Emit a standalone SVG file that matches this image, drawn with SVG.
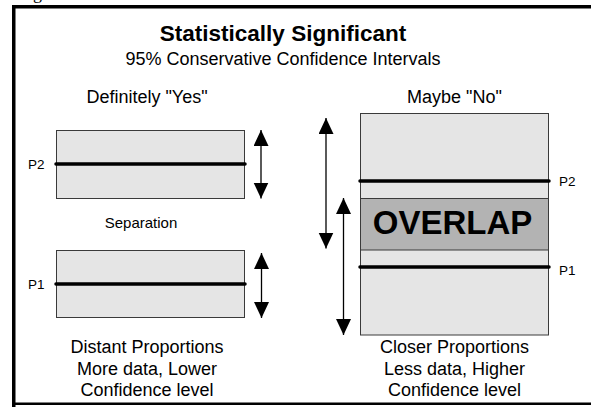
<svg xmlns="http://www.w3.org/2000/svg" width="591" height="407" viewBox="0 0 591 407">
  <style>
    text { font-family: "Liberation Sans", Arial, Helvetica, sans-serif; fill: #000; }
    .title { font-size: 22.5px; font-weight: bold; text-anchor: middle; }
    .sub { font-size: 18px; text-anchor: middle; }
    .lbl { font-size: 18px; text-anchor: middle; }
    .mid { font-size: 15px; text-anchor: middle; }
    .p { font-size: 13.5px; }
    .big { font-size: 33px; font-weight: bold; text-anchor: middle; }
    .box { fill: #e5e5e5; stroke: #3a3a3a; stroke-width: 1; }
    .ovl { fill: #b3b3b3; stroke: #3a3a3a; stroke-width: 1; }
    .pline { stroke: #000; stroke-width: 3.5; stroke-linecap: round; }
    .arr { stroke: #000; stroke-width: 1.3; fill: none; marker-start: url(#head); marker-end: url(#head); }
    .frame { fill: #000; }
  </style>
  <defs>
    <marker id="head" markerUnits="userSpaceOnUse" markerWidth="16" markerHeight="16" viewBox="0 0 16 16" refX="16" refY="7.5" orient="auto-start-reverse">
      <path d="M0,0 L16,7.5 L0,15 Z" fill="#000"/>
    </marker>
  </defs>

  <rect width="591" height="407" fill="#fff"/>

  <!-- descender of a caption line above the frame -->
  <text x="33" y="-1" style="font-family: 'Liberation Serif', 'Times New Roman', serif; font-size: 18px;">g</text>

  <!-- frame -->
  <rect class="frame" x="12" y="5" width="579" height="3.5"/>
  <rect class="frame" x="12" y="5" width="3.5" height="402"/>
  <rect class="frame" x="12" y="402.5" width="579" height="2.5"/>

  <!-- headings -->
  <text class="title" x="283" y="41">Statistically Significant</text>
  <text class="sub" x="283" y="65">95% Conservative Confidence Intervals</text>

  <!-- left column: separated intervals -->
  <g id="left-heading">
    <text class="lbl" x="147" y="103">Definitely "Yes"</text>
  </g>
  <g id="p2-interval">
    <rect class="box" x="56.5" y="130.5" width="188" height="68"/>
    <line class="pline" x1="56" y1="164" x2="245" y2="164"/>
    <text class="p" x="28" y="168.5">P2</text>
  </g>
  <g id="separation">
    <text class="mid" x="141" y="228">Separation</text>
  </g>
  <g id="p1-interval">
    <rect class="box" x="56.5" y="250.5" width="188" height="67"/>
    <line class="pline" x1="56" y1="284" x2="245" y2="284"/>
    <text class="p" x="28" y="288.5">P1</text>
  </g>
  <g id="left-caption">
    <text class="lbl" x="147" y="353">Distant Proportions</text>
    <text class="lbl" x="147" y="375">More data, Lower</text>
    <text class="lbl" x="147" y="396">Confidence level</text>
  </g>

  <!-- right column: overlapping intervals -->
  <g id="right-heading">
    <text class="lbl" x="454.5" y="103">Maybe "No"</text>
  </g>
  <g id="wide-intervals">
    <rect class="box" x="360.5" y="113.5" width="188" height="221.5"/>
    <rect class="ovl" x="360.5" y="198.5" width="188" height="51.5"/>
    <text class="big" x="452.5" y="233.5">OVERLAP</text>
    <line class="pline" x1="360" y1="181" x2="549" y2="181"/>
    <text class="p" x="559" y="185.5">P2</text>
    <line class="pline" x1="360" y1="267" x2="549" y2="267"/>
    <text class="p" x="559" y="275">P1</text>
  </g>
  <g id="right-caption">
    <text class="lbl" x="454.5" y="353">Closer Proportions</text>
    <text class="lbl" x="454.5" y="375">Less data, Higher</text>
    <text class="lbl" x="454.5" y="396">Confidence level</text>
  </g>

  <!-- interval arrows -->
  <g id="connectors">
    <line class="arr" x1="261" y1="130" x2="261" y2="198.5"/>
    <line class="arr" x1="261.5" y1="253" x2="261.5" y2="318"/>
    <line class="arr" x1="326" y1="118" x2="326" y2="248.5"/>
    <line class="arr" x1="343.5" y1="198" x2="343.5" y2="335"/>
  </g>
</svg>
